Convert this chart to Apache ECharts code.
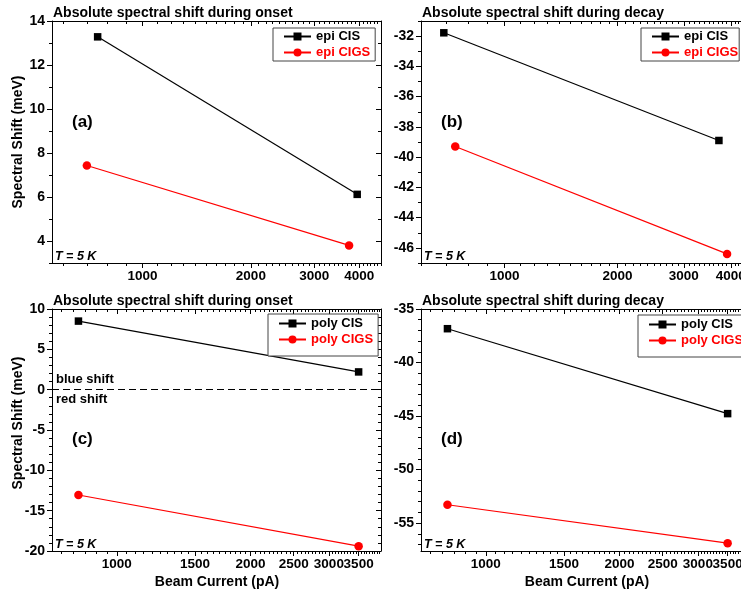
<!DOCTYPE html>
<html><head><meta charset="utf-8">
<script src="https://cdn.jsdelivr.net/npm/echarts@6/dist/echarts.min.js"></script>
<style>html,body{margin:0;padding:0;background:#fff}#c{width:741px;height:595px}</style>
</head><body><div id="c"></div><script>
// ---- data ----
const aCisX = [750, 3950],  aCisY = [13.28, 6.12];
const aCigsX = [700, 3750], aCigsY = [7.43, 3.80];
const bCisX = [690, 3720],  bCisY = [-31.78, -38.9];
const bCigsX = [740, 3910], bCigsY = [-39.3, -46.4];
const cCisX = [820, 3500],  cCisY = [8.5, 2.2];
const cCigsX = [820, 3500], cCigsY = [-13.06, -19.4];
const dCisX = [820, 3500],  dCisY = [-36.84, -44.77];
const dCigsX = [820, 3500], dCigsY = [-53.28, -56.87];

const topXTicks = [1000, 2000, 3000, 4000];
const botXTicks = [1000, 1500, 2000, 2500, 3000, 3500];
const aYTicks = [4, 6, 8, 10, 12, 14];
const bYTicks = [-46, -44, -42, -40, -38, -36, -34, -32];
const cYTicks = [-20, -15, -10, -5, 0, 5, 10];
const dYTicks = [-55, -50, -45, -40, -35];

const titles = ['Absolute spectral shift during onset', 'Absolute spectral shift during decay',
                'Absolute spectral shift during onset', 'Absolute spectral shift during decay'];
const panelTags = ['(a)', '(b)', '(c)', '(d)'];
const yName = 'Spectral Shift (meV)';
const xName = 'Beam Current (pA)';
const tempLabel = 'T = 5 K';

// ---- helpers ----
function steps(a, b, s, exclude) {
  const out = [];
  for (let v = a; v <= b + 1e-9; v += s) {
    const r = Math.round(v * 1000) / 1000;
    if (exclude.indexOf(r) < 0) out.push(r);
  }
  return out;
}
const FF = '"Liberation Sans", Arial, sans-serif';
const W = 329, H = 242;

const panels = [
  {left: 52, top: 21, xmin: 560, xmax: 4600, ymin: 3, ymax: 14,
   xMaj: topXTicks, xMin: steps(600, 4600, 100, topXTicks), yMaj: aYTicks, yMin: steps(3, 14, 1, aYTicks),
   ser: [['epi CIS', aCisX, aCisY], ['epi CIGS', aCigsX, aCigsY]],
   leg: {left: 273, top: 28, padding: [2, 5, 2, 10]}},
  {left: 421, top: 21, xmin: 600, xmax: 4500, ymin: -47, ymax: -31,
   xMaj: topXTicks, xMin: steps(600, 4500, 100, topXTicks), yMaj: bYTicks, yMin: steps(-47, -31, 1, bYTicks),
   ser: [['epi CIS', bCisX, bCisY], ['epi CIGS', bCigsX, bCigsY]],
   leg: {left: 641, top: 28, padding: [2, 1, 2, 10]}},
  {left: 52, top: 309, xmin: 715, xmax: 3930, ymin: -20, ymax: 10,
   xMaj: botXTicks, xMin: steps(750, 3900, 50, botXTicks), yMaj: cYTicks, yMin: steps(-20, 10, 1, cYTicks),
   ser: [['poly CIS', cCisX, cCisY], ['poly CIGS', cCigsX, cCigsY]],
   leg: {left: 268, top: 314, padding: [3, 5, 10, 10]}, zero: true},
  {left: 421, top: 309, xmin: 715, xmax: 3930, ymin: -57.6, ymax: -35,
   xMaj: botXTicks, xMin: steps(750, 3900, 50, botXTicks), yMaj: dYTicks, yMin: steps(-57, -35, 1, dYTicks),
   ser: [['poly CIS', dCisX, dCisY], ['poly CIGS', dCigsX, dCigsY]],
   leg: {left: 638, top: 315, padding: [3, 5, 10, 10]}}
];

const grids = [], xAxes = [], yAxes = [], series = [], legends = [], graphics = [];
const lineBlack = {color: '#000', width: 1};
const styles = [
  {symbol: 'rect', color: '#000'},
  {symbol: 'circle', color: '#ff0000'}
];

panels.forEach((p, i) => {
  grids.push({left: p.left, top: p.top, width: W, height: H, outerBoundsMode: 'none', containLabel: false});
  const xc = {type: 'log', logBase: 10, min: p.xmin, max: p.xmax, gridIndex: i, splitLine: {show: false}};
  const yc = {type: 'value', min: p.ymin, max: p.ymax, gridIndex: i, splitLine: {show: false}};
  const xb = xAxes.length, yb = yAxes.length;
  const lbl = {color: '#000', fontWeight: 'bold', fontFamily: FF, hideOverlap: false,
    showMinLabel: true, showMaxLabel: true, interval: 0};
  // split the x labels over two overlapping axes so none gets hidden
  const xLabA = p.xMaj.filter((v, j) => j % 2 === 0);
  const xLabB = p.xMaj.filter((v, j) => j % 2 === 1);
  const xFmt = v => String(Math.round(v));
  xAxes.push(Object.assign({}, xc, {position: 'bottom',
    axisLine: {show: true, onZero: false, lineStyle: lineBlack},
    axisTick: {show: true, inside: false, length: 5, customValues: p.xMaj, lineStyle: lineBlack},
    axisLabel: Object.assign({show: true, customValues: xLabA, margin: 6, fontSize: 13.5, formatter: xFmt}, lbl)}));
  xAxes.push(Object.assign({}, xc, {position: 'bottom',
    axisLine: {show: false, onZero: false},
    axisTick: {show: true, inside: false, length: 3, customValues: p.xMin, lineStyle: lineBlack},
    axisLabel: Object.assign({show: true, customValues: xLabB, margin: 6, fontSize: 13.5, formatter: xFmt}, lbl)}));
  xAxes.push(Object.assign({}, xc, {position: 'top',
    axisLine: {show: true, onZero: false, lineStyle: lineBlack},
    axisTick: {show: true, inside: true, length: 5, customValues: p.xMaj, lineStyle: lineBlack},
    axisLabel: {show: false}}));
  xAxes.push(Object.assign({}, xc, {position: 'top',
    axisLine: {show: false, onZero: false},
    axisTick: {show: true, inside: true, length: 3, customValues: p.xMin, lineStyle: lineBlack},
    axisLabel: {show: false}}));

  yAxes.push(Object.assign({}, yc, {position: 'left',
    axisLine: {show: true, onZero: false, lineStyle: lineBlack},
    axisTick: {show: true, inside: false, length: 5, customValues: p.yMaj, lineStyle: lineBlack},
    axisLabel: Object.assign({show: true, customValues: p.yMaj, margin: 7, fontSize: 14,
      formatter: v => String(Math.round(v * 100) / 100)}, lbl)}));
  yAxes.push(Object.assign({}, yc, {position: 'left',
    axisLine: {show: false, onZero: false},
    axisTick: {show: true, inside: false, length: 3, customValues: p.yMin, lineStyle: lineBlack},
    axisLabel: {show: false}}));
  yAxes.push(Object.assign({}, yc, {position: 'right',
    axisLine: {show: true, onZero: false, lineStyle: lineBlack},
    axisTick: {show: true, inside: true, length: 5, customValues: p.yMaj, lineStyle: lineBlack},
    axisLabel: {show: false}}));
  yAxes.push(Object.assign({}, yc, {position: 'right',
    axisLine: {show: false, onZero: false},
    axisTick: {show: true, inside: true, length: 3, customValues: p.yMin, lineStyle: lineBlack},
    axisLabel: {show: false}}));

  p.ser.forEach((s, k) => {
    const st = styles[k];
    const obj = {
      type: 'line', name: s[0], xAxisIndex: xb, yAxisIndex: yb,
      data: s[1].map((x, j) => [x, s[2][j]]),
      symbol: st.symbol, symbolSize: st.symbol === 'rect' ? 7.5 : 8.5, showSymbol: true,
      itemStyle: {color: st.color}, lineStyle: {color: st.color, width: 1.2},
      animation: false, z: 3
    };
    if (p.zero && k === 0) {
      obj.markLine = {silent: true, symbol: 'none', label: {show: false},
        lineStyle: {type: [7, 4], color: '#000', width: 1.2}, data: [{yAxis: 0}]};
    }
    series.push(obj);
  });

  legends.push(Object.assign({
    orient: 'vertical', itemWidth: 27, itemHeight: 10, itemGap: 3,
    borderColor: '#444', borderWidth: 1, backgroundColor: '#fff',
    textStyle: {fontSize: 13, fontWeight: 'bold', fontFamily: FF},
    data: [{name: p.ser[0][0], textStyle: {color: '#000'}}, {name: p.ser[1][0], textStyle: {color: '#ff0000'}}],
    selectedMode: false
  }, p.leg));

  // texts
  graphics.push({type: 'text', x: p.left + 1, y: p.top - 8, style: {text: titles[i],
    font: 'bold 14px ' + FF, fill: '#000', align: 'left', verticalAlign: 'middle'}});
  graphics.push({type: 'text', x: p.left + 20, y: p.top + (i < 2 ? 101 : 130), style: {text: panelTags[i],
    font: 'bold 17px ' + FF, fill: '#000', align: 'left', verticalAlign: 'middle'}});
  graphics.push({type: 'text', x: p.left + 3, y: p.top + H - 6.5, style: {text: tempLabel,
    font: 'italic bold 12.5px ' + FF, fill: '#000', align: 'left', verticalAlign: 'middle'}});
});

// axis names
graphics.push({type: 'text', x: 18, y: 142, rotation: Math.PI / 2, style: {text: yName,
  font: 'bold 14px ' + FF, fill: '#000', align: 'center', verticalAlign: 'middle'}});
graphics.push({type: 'text', x: 18, y: 423, rotation: Math.PI / 2, style: {text: yName,
  font: 'bold 14px ' + FF, fill: '#000', align: 'center', verticalAlign: 'middle'}});
graphics.push({type: 'text', x: 217, y: 582, style: {text: xName,
  font: 'bold 14px ' + FF, fill: '#000', align: 'center', verticalAlign: 'middle'}});
graphics.push({type: 'text', x: 587, y: 582, style: {text: xName,
  font: 'bold 14px ' + FF, fill: '#000', align: 'center', verticalAlign: 'middle'}});
// shift annotations
graphics.push({type: 'text', x: 56, y: 379.5, style: {text: 'blue shift',
  font: 'bold 13px ' + FF, fill: '#000', align: 'left', verticalAlign: 'middle'}});
graphics.push({type: 'text', x: 56, y: 399, style: {text: 'red shift',
  font: 'bold 13px ' + FF, fill: '#000', align: 'left', verticalAlign: 'middle'}});

const chart = echarts.init(document.getElementById('c'), null, {renderer: 'canvas'});
chart.setOption({
  animation: false,
  backgroundColor: '#fff',
  grid: grids, xAxis: xAxes, yAxis: yAxes, series: series, legend: legends,
  graphic: graphics
});
</script></body></html>
